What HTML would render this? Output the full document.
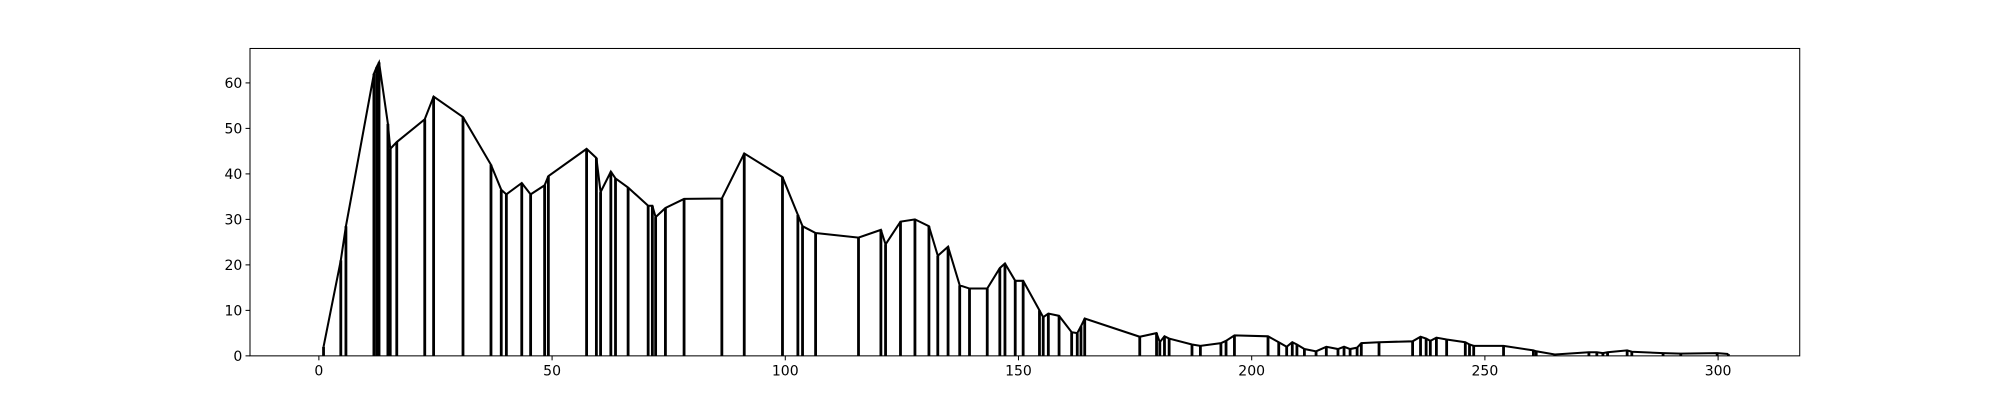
<!DOCTYPE html>
<html><head><meta charset="utf-8"><style>
body{margin:0;background:#fff;}
svg text{font-family:"DejaVu Sans","Liberation Sans",sans-serif;font-size:11px;fill:#000;}
</style></head><body>
<svg id="chart" width="2000" height="400" xmlns="http://www.w3.org/2000/svg">
<rect x="0" y="0" width="2000" height="400" fill="#fff"/>
<g transform="scale(1.2755)">
<g id="marks"></g>
<g id="axes"></g>
</g>
</svg>
<script>
const xs = [1,4.7,5.8,11.8,12.4,12.9,14.8,15.3,16.7,22.7,24.6,30.9,36.9,39.1,40.2,43.5,45.4,48.4,49.2,57.4,59.5,60.4,62.6,63.6,66.3,70.6,71.5,72.2,74.3,78.3,86.4,91.2,99.4,102.7,103.7,106.5,115.7,120.5,121.5,124.7,127.8,130.8,132.7,134.9,137.4,139.5,143.3,146,147.1,149.3,151,154.5,155.3,156.4,158.7,161.4,162.6,163.4,164.2,176,179.6,180.3,181.3,182.3,187.2,189,193.4,194.5,196.3,203.5,205.8,207.5,208.7,209.7,211.3,213.8,216,218.5,219.8,221.1,222.6,223.5,227.3,234.5,236.2,237.4,238.3,239.6,241.8,245.8,246.7,247.6,254,260.4,261,265,272.3,274,275.3,276.3,280.5,281.5,288.2,292,299.8,302.2];
const ys = [2,21,28.5,62,63.5,64.5,51,45.5,47,52,57,52.5,42,36.5,35.5,38,35.5,37.5,39.5,45.5,43.5,36,40.5,39,37,33,33,30.5,32.5,34.5,34.6,44.5,39.3,31,28.5,27,26,27.7,24.5,29.5,30,28.5,22,24,15.5,14.8,14.8,19.3,20.3,16.5,16.5,10,8.5,9.3,8.8,5.2,5,6.5,8.2,4.2,5,3,4.3,3.8,2.5,2.2,2.8,3.3,4.5,4.3,3,2,3,2.5,1.5,1,2,1.5,2,1.5,1.8,2.8,3,3.2,4.2,3.8,3.3,4,3.6,3,2.5,2.2,2.2,1.2,1,0.3,0.8,0.8,0.6,0.8,1.2,0.9,0.6,0.5,0.6,0.4];
const xTicks = [0,50,100,150,200,250,300];
const yTicks = [0,10,20,30,40,50,60];

const L=196,R=1411,T=38,B=279;
const X0=250, XS=(1347-250)/300, YS=(279-65)/60;
function sx(v){return X0+v*XS;}
function sy(v){return B-v*YS;}
const NS="http://www.w3.org/2000/svg";
const marks=document.getElementById('marks'), axes=document.getElementById('axes');
function mk(tag,attrs,parent){const e=document.createElementNS(NS,tag);for(const k in attrs)e.setAttribute(k,attrs[k]);parent.appendChild(e);return e;}

for(let i=0;i<xs.length;i++){
  const l=mk('line',{x1:sx(xs[i]),x2:sx(xs[i]),y1:sy(0),y2:sy(ys[i]),stroke:'#000','stroke-width':2.2},marks);
  
  
}
const pl=mk('polyline',{points:xs.map((x,i)=>sx(x)+','+sy(ys[i])).join(' '),fill:'none',stroke:'#000','stroke-width':1.6,'stroke-linejoin':'miter'},marks);



const fr=mk('rect',{x:L,y:T,width:R-L,height:B-T,fill:'none',stroke:'#000','stroke-width':0.8},axes);


xTicks.forEach(t=>{
  const x=sx(t);
  const tk=mk('line',{x1:x,x2:x,y1:B,y2:B+3.5,stroke:'#000','stroke-width':0.8},axes);
  
  
  const tx=mk('text',{x:x,y:B+15.5,'text-anchor':'middle'},axes);
  tx.textContent=t;
  
  
});
yTicks.forEach(t=>{
  const y=sy(t);
  const tk=mk('line',{x1:L-3.5,x2:L,y1:y,y2:y,stroke:'#000','stroke-width':0.8},axes);
  
  
  const tx=mk('text',{x:L-6,y:y+4,'text-anchor':'end'},axes);
  tx.textContent=t;
  
  
});
</script>
</body></html>
